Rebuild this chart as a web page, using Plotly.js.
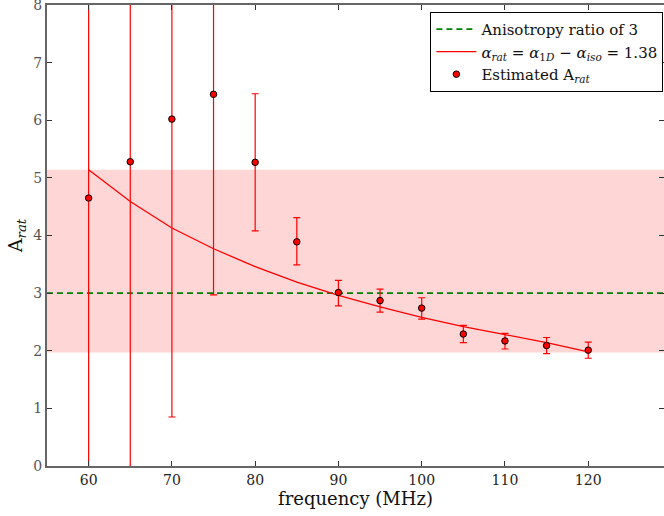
<!DOCTYPE html>
<html>
<head>
<meta charset="utf-8">
<script src="https://cdn.plot.ly/plotly-3.0.1.min.js"></script>
<style>html,body{margin:0;padding:0;background:#fff;}#chart{width:664px;height:516px;}</style>
</head>
<body>
<div id="chart"></div>
<script>
// Data
const freq = [60, 65, 70, 75, 80, 85, 90, 95, 100, 105, 110, 115, 120];
const aRat = [4.65, 5.28, 6.02, 6.45, 5.27, 3.89, 3.01, 2.87, 2.74, 2.29, 2.17, 2.09, 2.01];
const aRatUpper = [12.0, 12.0, 12.0, 12.0, 6.46, 4.31, 3.22, 3.07, 2.92, 2.44, 2.30, 2.23, 2.15];
const aRatLower = [-2.0, -2.0, 0.85, 2.97, 4.08, 3.49, 2.78, 2.67, 2.55, 2.14, 2.03, 1.95, 1.87];
const modelCurve = [5.14, 4.59, 4.13, 3.77, 3.46, 3.19, 2.96, 2.76, 2.58, 2.42, 2.28, 2.14, 1.98];
const isoRatio = 3;
const bandLow = 1.97;
const bandHigh = 5.14;
const xRange = [55, 129.1];
const yRange = [0, 8];
const yTicks = [0, 1, 2, 3, 4, 5, 6, 7, 8];
const xTicks = [60, 70, 80, 90, 100, 110, 120];

const errPlus = aRatUpper.map((u, i) => u - aRat[i]);
const errMinus = aRat.map((v, i) => v - aRatLower[i]);

const font = "'DejaVu Serif', 'Liberation Serif', serif";

const traces = [
  {
    x: xRange, y: [isoRatio, isoRatio], mode: 'lines', type: 'scatter',
    name: 'Anisotropy ratio of 3',
    line: {color: '#008000', width: 1.6, dash: '6px,4px'},
    hoverinfo: 'skip'
  },
  {
    x: freq, y: modelCurve, mode: 'lines', type: 'scatter',
    name: '<i>α<sub>rat</sub></i> = <i>α</i><sub>1<i>D</i></sub> − <i>α<sub>iso</sub></i> = 1.38',
    line: {color: '#ff0000', width: 1.3}
  },
  {
    x: freq, y: aRat, mode: 'markers', type: 'scatter',
    name: 'Estimated A<sub><i>rat</i></sub>',
    marker: {color: '#ff0000', size: 6.5, line: {color: '#000', width: 1}},
    error_y: {type: 'data', symmetric: false, array: errPlus, arrayminus: errMinus,
              color: '#ff0000', thickness: 1.2, width: 3.5}
  }
];

const layout = {
  width: 664, height: 516,
  margin: {l: 47, r: 0, t: 5, b: 50},
  paper_bgcolor: '#fff', plot_bgcolor: '#fff',
  font: {family: font, color: '#222', size: 14},
  showlegend: true,
  legend: {
    x: 0.999, xanchor: 'right', y: 0.985, yanchor: 'top',
    bgcolor: '#fff', bordercolor: '#000', borderwidth: 1,
    font: {family: font, size: 15, color: '#111'},
    itemwidth: 40,
    tracegroupgap: 0
  },
  xaxis: {
    range: xRange, tickvals: xTicks, ticktext: xTicks.map(String),
    ticks: 'inside', ticklen: 5, tickwidth: 1, tickcolor: '#333',
    showline: true, linecolor: '#666', linewidth: 2, mirror: 'ticks',
    showgrid: false, zeroline: false, ticklabeloverflow: 'allow',
    tickfont: {family: font, size: 14, color: '#222'},
    title: {text: 'frequency (MHz)', font: {family: font, size: 18, color: '#111'}, standoff: 5}
  },
  yaxis: {
    range: yRange, tickvals: yTicks, ticktext: yTicks.map(String),
    ticks: 'inside', ticklen: 5, tickwidth: 1, tickcolor: '#333',
    showline: true, linecolor: '#666', linewidth: 2, mirror: 'ticks',
    showgrid: false, zeroline: false, ticklabeloverflow: 'allow',
    tickfont: {family: font, size: 14, color: '#555'},
    title: {text: 'A<sub><i>rat</i></sub>', font: {family: font, size: 19, color: '#111'}, standoff: 6}
  },
  shapes: [
    {type: 'rect', xref: 'paper', yref: 'y', x0: 0, x1: 1, y0: bandLow, y1: bandHigh,
     fillcolor: 'rgba(255,0,0,0.16)', line: {width: 0}, layer: 'below'}
  ]
};

Plotly.newPlot('chart', traces, layout, {displayModeBar: false, staticPlot: true});
</script>
</body>
</html>
